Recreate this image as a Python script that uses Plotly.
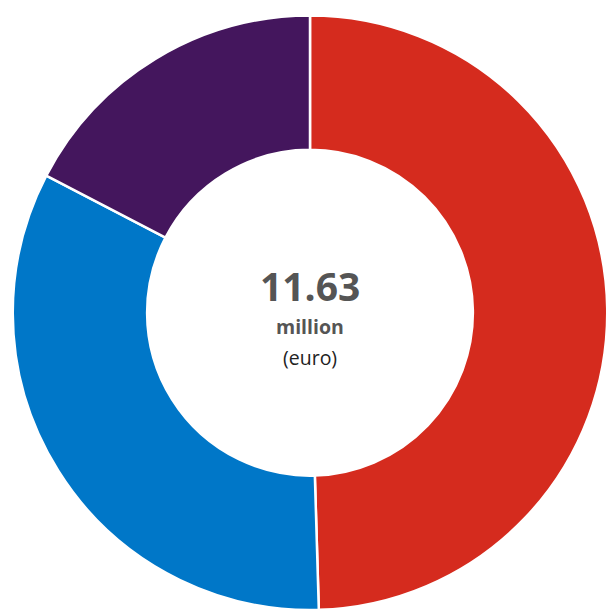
import plotly.graph_objects as go

W, H = 608, 610

labels = ["Red segment", "Blue segment", "Purple segment"]
values = [5.76, 3.85, 2.02]
colors = ["#D52B1E", "#0077C8", "#44165D"]
total_label = "11.63"
unit_label = "million"
currency_label = "(euro)"

fig = go.Figure(
    go.Pie(
        labels=labels,
        values=values,
        hole=0.548,
        sort=False,
        direction="clockwise",
        rotation=0,
        textinfo="none",
        hoverinfo="label+value",
        marker=dict(colors=colors, line=dict(color="#FFFFFF", width=2.5)),
        domain=dict(x=[12 / W, 1], y=[0, 1 - 15.5 / H]),
        showlegend=False,
    )
)

def py(y):
    return 1 - y / H

fig.add_annotation(x=310 / W, y=py(285.5), xref="paper", yref="paper",
                   text="<b>" + total_label + "</b>", showarrow=False,
                   font=dict(family="Open Sans", size=39, color="#555555"),
                   xanchor="center", yanchor="middle")
fig.add_annotation(x=310 / W, y=py(326), xref="paper", yref="paper",
                   text="<b>" + unit_label + "</b>", showarrow=False,
                   font=dict(family="Open Sans", size=19.5, color="#555555"),
                   xanchor="center", yanchor="middle")
fig.add_annotation(x=310 / W, y=py(357.5), xref="paper", yref="paper",
                   text=currency_label, showarrow=False,
                   font=dict(family="Open Sans", size=19.5, color="#222222"),
                   xanchor="center", yanchor="middle")

fig.update_layout(
    width=W, height=H,
    margin=dict(l=0, r=0, t=0, b=0),
    paper_bgcolor="#FFFFFF",
    plot_bgcolor="#FFFFFF",
)

fig.write_html(
    "out.html",
    config={"displayModeBar": False},
    post_script="document.body.style.margin='0';document.body.style.overflow='hidden';",
)
